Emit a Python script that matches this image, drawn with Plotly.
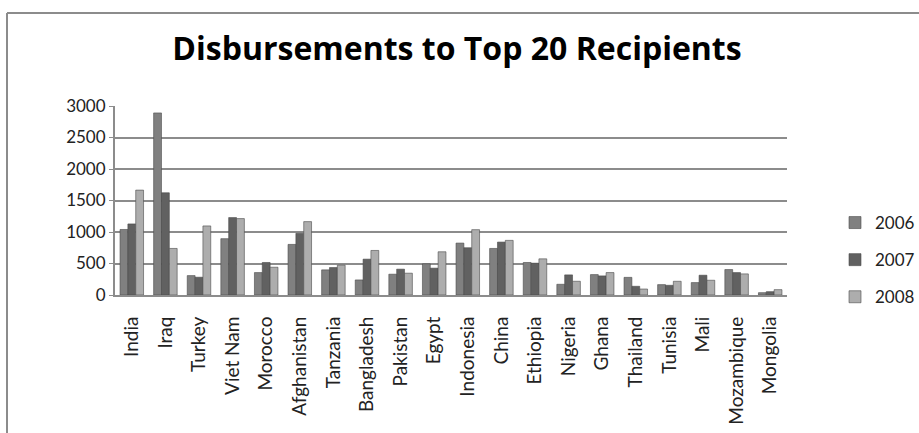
import plotly.graph_objects as go

# Recipients and yearly disbursements
countries = ["India", "Iraq", "Turkey", "Viet Nam", "Morocco", "Afghanistan",
             "Tanzania", "Bangladesh", "Pakistan", "Egypt", "Indonesia", "China",
             "Ethiopia", "Nigeria", "Ghana", "Thailand", "Tunisia", "Mali",
             "Mozambique", "Mongolia"]
years = ["2006", "2007", "2008"]
vals_2006 = [1040, 2890, 308, 894, 356, 803, 399, 239, 330, 495, 824, 739,
             516, 170, 324, 280, 165, 197, 404, 37]
vals_2007 = [1128, 1622, 282, 1229, 516, 979, 436, 569, 410, 426, 750, 840,
             505, 319, 303, 138, 154, 314, 356, 53]
vals_2008 = [1665, 739, 1096, 1213, 441, 1165, 473, 707, 346, 686, 1037, 867,
             574, 218, 356, 95, 218, 234, 335, 85]
y_ticks = [0, 500, 1000, 1500, 2000, 2500, 3000]

series = [vals_2006, vals_2007, vals_2008]
colors = ["#808080", "#616161", "#adadad"]

W, H = 919, 433
L, R, T, B = 115, 787, 106, 295   # plot area in pixels

fig = go.Figure()
for name, vals, col in zip(years, series, colors):
    fig.add_trace(go.Bar(
        x=countries, y=vals, name=name, legendgroup=name,
        marker=dict(color=col, line=dict(color="#4a4a4a", width=0.6)),
    ))

def px_x(p):
    return (p - L) / (R - L)

def px_y(p):
    return (B - p) / (B - T)

gray = "#8c8c8c"
shapes = [
    # outer chart frame (left and top edges)
    dict(type="line", xref="paper", yref="paper",
         x0=px_x(7), x1=px_x(7), y0=px_y(13), y1=px_y(H + 5),
         line=dict(color=gray, width=2)),
    dict(type="line", xref="paper", yref="paper",
         x0=px_x(7), x1=px_x(W + 5), y0=px_y(13), y1=px_y(13),
         line=dict(color=gray, width=2)),
]

font = "Lato, 'Open Sans', sans-serif"
fig.update_layout(
    width=W, height=H,
    margin=dict(l=L, r=W - R, t=T, b=H - B, pad=0),
    paper_bgcolor="white", plot_bgcolor="white",
    barmode="group", bargap=0.3, bargroupgap=0.0,
    title=dict(text="<b>Disbursements to Top 20 Recipients</b>",
               x=457 / W, xanchor="center", y=1 - 49 / H, yanchor="middle",
               font=dict(family="'Open Sans', sans-serif", size=32,
                         color="black")),
    font=dict(family=font, color="#222222"),
    xaxis=dict(tickangle=-90, tickfont=dict(size=19, color="#222222"),
               showline=True, linecolor=gray, linewidth=2,
               ticks="outside", ticklen=12, tickcolor="rgba(0,0,0,0)",
               showgrid=False, automargin=False),
    yaxis=dict(range=[0, 3000], tickvals=y_ticks,
               tickfont=dict(size=17, color="#222222"),
               showgrid=True, gridcolor=gray, gridwidth=2,
               showline=True, linecolor=gray, linewidth=2,
               ticks="outside", ticklen=4, tickcolor=gray,
               zeroline=False, automargin=False),
    legend=dict(xref="container", yref="container",
                x=835 / W, y=1 - 205 / H, xanchor="left", yanchor="top",
                font=dict(size=17, color="#222222"),
                tracegroupgap=12, itemwidth=30, bgcolor="rgba(0,0,0,0)"),
    shapes=shapes,
)

fig.write_html("out.html")
